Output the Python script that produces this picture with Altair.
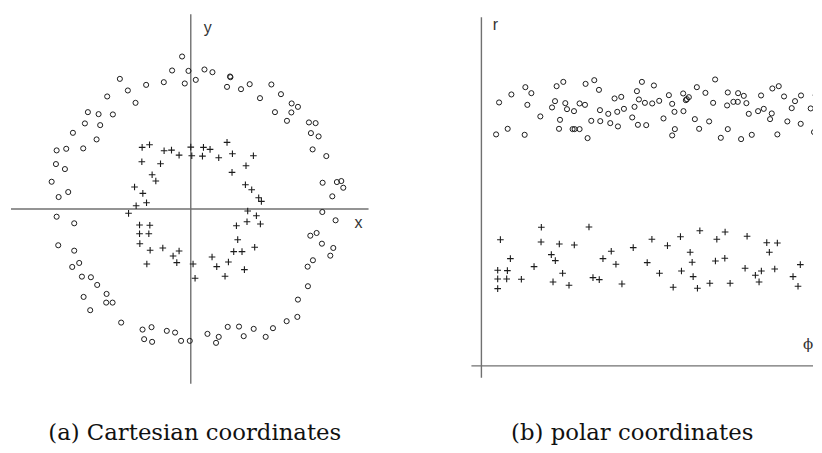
import altair as alt
import pandas as pd

# ---- (a) Cartesian coordinates: outer ring (circles) ----
outer_x = [-8.7, -18.7, -2.3, 5, -6, -27, -44.7, -71, -63, -83.7, -55.3, -103, -92.3, -78, -106, -90.7,
           -118, -94.3, -134.3, -124.7, -107.7, -135, -126, -139.3, -132.3, -122.7, -134.3, -116.7,
           -132.7, -116.7, -118.7, -111.7, -109, -100, -93.7, -107.3, -84.3, -84.7, -78.3, -100.7,
           -69.7, -48.3, -39.3, -46.7, -38.7, -24, -15.7, -9.7, -1,
           13.7, 21.7, 39.3, 39.7, 36.3, 50.3, 59, 80.7, 69.3, 90.3, 101, 107.3, 84.3, 100.7, 96.3,
           118.3, 125, 120.3, 128, 122, 135.7, 132, 146.3, 150.7, 152.7, 141.7, 131.7, 145, 119.7,
           126, 131.3, 142.7, 139.7, 122.3, 117, 117.3, 107.3, 106.7, 96, 82.3, 75, 63, 53, 48.3,
           37, 28, 25.3, 16.7]
outer_y = [152.7, 138.7, 138.3, 129.3, 125.7, 127, 124.3, 130.3, 118.7, 112.7, 106.3, 97, 95, 94.7, 85.7,
           84, 76.3, 69.7, 58.7, 60.3, 60.7, 45, 40, 27.3, 12, 17, -7.7, -14.3, -36.3, -41.7, -58, -54,
           -67.7, -68.3, -76, -88, -85, -93.7, -93.7, -101.3, -113.7, -120.7, -118.3, -130.3, -133,
           -122, -123.7, -132, -132,
           139.7, 137, 132.7, 132, 122.3, 120, 125, 124.7, 111, 115, 105.7, 102.3, 97, 96.7, 88.3,
           86.7, 86, 76, 72.7, 59.7, 53, 26.3, 27, 28, 21.3, 12.7, -3, -11.3, -26.7, -24, -34.7, -39,
           -46.7, -51.3, -57.7, -77.3, -90.7, -108, -112.3, -119.3, -128, -120, -127.3, -117.7, -118,
           -128, -134, -125]

# ---- (a) inner ring (pluses) ----
inner_x = [-48.7, -41.3, -26.7, -19.3, -11.7, 0, 1, -49, -30.3, -38.7, -35, -56.3, -48, -54.7, -44.3,
           -62.3, -51.3, -41, -51.3, -42, -51, -40.7, -28, -17.7, -11.7, -44, -14, 2.3, 4.3,
           12.7, 19.3, 11.7, 28, 36.3, 41.7, 62.7, 41.3, 55.3, 54.7, 61, 68, 70.7, 57, 65.7, 56.3,
           69.7, 45.7, 47, 43, 51.3, 64, 21.3, 26, 37.7, 53.7, 34.3]
inner_y = [61.7, 64.3, 58.3, 59, 54, 62, 53.3, 47.3, 45.3, 34.3, 28, 22, 15.7, 3.3, 6.3, -4.3, -16,
           -16.3, -24.7, -24.7, -34.7, -41.3, -39, -47, -42, -55, -53.7, -55, -69.3,
           61.7, 59.7, 53, 51.3, 66.7, 55.3, 53.3, 36.7, 43.3, 24.3, 19.3, 11.3, 7.7, -2, -6.7, -12.7,
           -15, -16.7, -30.7, -42.7, -42.7, -38.3, -48, -57.7, -53, -60.7, -67.3]

# ---- (b) polar coordinates: outer ring (circles) ----
pc_phi = [14.7, 17.7, 26.3, 30, 44, 50, 46, 43.3, 59, 75.3, 82, 73.7, 70.7, 84, 85.7, 92.7, 78.7, 77.7,
          91.3, 93.3, 98.3, 106.3, 98.3, 103.7, 104.3, 113, 117.7, 118.7, 110, 119, 127, 129, 136,
          136.7, 142.7, 133.3, 140, 151, 156.7, 165, 153.3, 157.7, 163.7, 171, 155.7, 160.7, 172.7, 178,
          187.7, 191, 202, 207.7, 204.7, 205.7, 193.3, 202.3, 182.3, 193.7, 191, 213.7, 218, 228,
          215.7, 224.3, 234, 232, 239.7, 246.7, 246.7, 246, 252.3, 256.7, 257, 262.7, 265.3, 267.7,
          260, 270.7, 277, 282.7, 280, 291.3, 297.7, 303, 290.7, 289, 296.3, 306.3, 310.7, 314, 320,
          319.7, 329.7, 333, 334.7, 338.3, 339.7]
pc_r = [231.7, 263.7, 237.3, 271.7, 279, 273, 261.3, 231.3, 249.7, 280, 284.3, 265, 258.7, 263, 257,
        255, 246.3, 237.3, 237, 237, 237, 228, 262.7, 261.3, 282.3, 286, 276.3, 256, 245.3, 245,
        252.3, 243, 254.3, 239.7, 257.3, 267.7, 269.3, 248.7, 241.3, 241, 259.3, 266.7, 263.3, 262.7,
        275, 284.3, 280.7, 265.3,
        271, 262.3, 272.7, 269, 266, 267, 254.3, 255, 247.7, 237, 230.7, 247, 237.3, 244.7, 279,
        273.3, 286.7, 263.3, 228.3, 237, 273.7, 260.7, 264.3, 264.3, 273, 270.3, 263, 252.3, 227,
        231.3, 255, 257.3, 270.7, 277.7, 280, 269.7, 252.7, 247, 231.7, 244.7, 258, 265, 270.7,
        242.3, 257.7, 234, 271, 272, 266]

# ---- (b) inner ring (pluses) ----
pp_phi = [19, 16.3, 26, 16.3, 25.3, 16.3, 29, 40, 52.7, 60, 59.7, 70, 74, 78, 93, 81.3, 71.7, 87.7,
          107.7, 111.7, 118, 121.7, 130, 134.7, 140.7, 152, 166, 170.7,
          178.3, 186.3, 199.3, 218.7, 209, 211, 200.3, 212, 192, 216.3, 228.7, 235.7, 244, 234.3,
          243.7, 249, 266, 264, 274.3, 280.3, 278, 285.7, 296.3, 288.3, 293.7, 312, 317, 319.3]
pp_r = [126.3, 95.7, 95.3, 87, 87, 77.3, 107.3, 86.7, 99.3, 138.7, 124, 111.3, 105.3, 122, 121, 92.7,
        84, 80.7, 139, 88.3, 86.3, 107.3, 114.7, 101.7, 82, 118.3, 103.3, 126.7,
        92.7, 120.3, 129.3, 135.3, 113.7, 103.7, 95, 89.3, 78.7, 77.7, 82.7, 126.7, 134, 105, 107.7,
        82.7, 129.7, 97.7, 90.7, 95, 84, 123.3, 123, 113.7, 97, 89.3, 79.7, 101.3]

captions = ["(a) Cartesian coordinates", "(b) polar coordinates"]
axis_names = ["x", "y", "r", "ϕ"]

PLUS = "M-1,0H1M0,-1V1"
AX = "#707070"
INK = "#1c1c1c"

one = pd.DataFrame({"k": [0]})


def rule(sx, sy, x1, x2, y1, y2):
    return alt.Chart(one).mark_rule(color=AX, strokeWidth=1.4).transform_calculate(
        a=str(x1), a2=str(x2), b=str(y1), b2=str(y2)
    ).encode(
        x=alt.X("a:Q", scale=sx, axis=None), x2="a2:Q",
        y=alt.Y("b:Q", scale=sy, axis=None), y2="b2:Q",
    )


def label(sx, sy, txt, xv, yv, font, size, color="#333", baseline="middle"):
    return alt.Chart(one).mark_text(text=txt, font=font, fontSize=size, color=color,
                                    baseline=baseline).transform_calculate(
        a=str(xv), b=str(yv)
    ).encode(
        x=alt.X("a:Q", scale=sx, axis=None),
        y=alt.Y("b:Q", scale=sy, axis=None),
    )


H = 437

# ---------------- left panel (page x 8..372) ----------------
lx = alt.Scale(domain=[-183, 181], nice=False, zero=False)
ly = alt.Scale(domain=[-236, 201], nice=False, zero=False)

outer_df = pd.DataFrame({"x": outer_x, "y": outer_y})
inner_df = pd.DataFrame({"x": inner_x, "y": inner_y})

l_out = alt.Chart(outer_df).mark_point(shape="circle", filled=False, size=26, strokeWidth=1, color=INK, opacity=1).encode(
    x=alt.X("x:Q", scale=lx, axis=None), y=alt.Y("y:Q", scale=ly, axis=None))
l_in = alt.Chart(inner_df).mark_point(shape=PLUS, filled=False, size=44, strokeWidth=1.1, color=INK, opacity=1).encode(
    x=alt.X("x:Q", scale=lx, axis=None), y=alt.Y("y:Q", scale=ly, axis=None))

left = alt.layer(
    rule(lx, ly, -180, 178, 0, 0),
    rule(lx, ly, 0, 0, 195, -175),
    l_out, l_in,
    label(lx, ly, axis_names[0], 168, -14, "Liberation Sans", 16),
    label(lx, ly, axis_names[1], 17, 181, "Liberation Sans", 16),
    label(lx, ly, captions[0], 4, -231, "DejaVu Serif", 22.8, "#111", "alphabetic"),
).properties(width=364, height=H)

# ---------------- right panel (page x 460..814) ----------------
rx = alt.Scale(domain=[-22, 332], nice=False, zero=False)
ry = alt.Scale(domain=[-79, 358], nice=False, zero=False)

pc_df = pd.DataFrame({"phi": pc_phi, "r": pc_r})
pp_df = pd.DataFrame({"phi": pp_phi, "r": pp_r})

r_out = alt.Chart(pc_df).mark_point(shape="circle", filled=False, size=26, strokeWidth=1, color=INK, opacity=1, clip=True).encode(
    x=alt.X("phi:Q", scale=rx, axis=None), y=alt.Y("r:Q", scale=ry, axis=None))
r_in = alt.Chart(pp_df).mark_point(shape=PLUS, filled=False, size=44, strokeWidth=1.1, color=INK, opacity=1, clip=True).encode(
    x=alt.X("phi:Q", scale=rx, axis=None), y=alt.Y("r:Q", scale=ry, axis=None))

right = alt.layer(
    rule(rx, ry, -10, 332, 0, 0),
    rule(rx, ry, 0, 0, 349, -12),
    r_out, r_in,
    label(rx, ry, axis_names[2], 14, 341, "Liberation Sans", 16),
    label(rx, ry, axis_names[3], 327, 22, "DejaVu Serif", 15),
    label(rx, ry, captions[1], 151, -74, "DejaVu Serif", 22.8, "#111", "alphabetic"),
).properties(width=354, height=H)

chart = alt.hconcat(left, right, spacing=88).properties(padding=0).configure_view(stroke=None)

chart.save("out.html", embed_options={"renderer": "svg", "actions": False})
